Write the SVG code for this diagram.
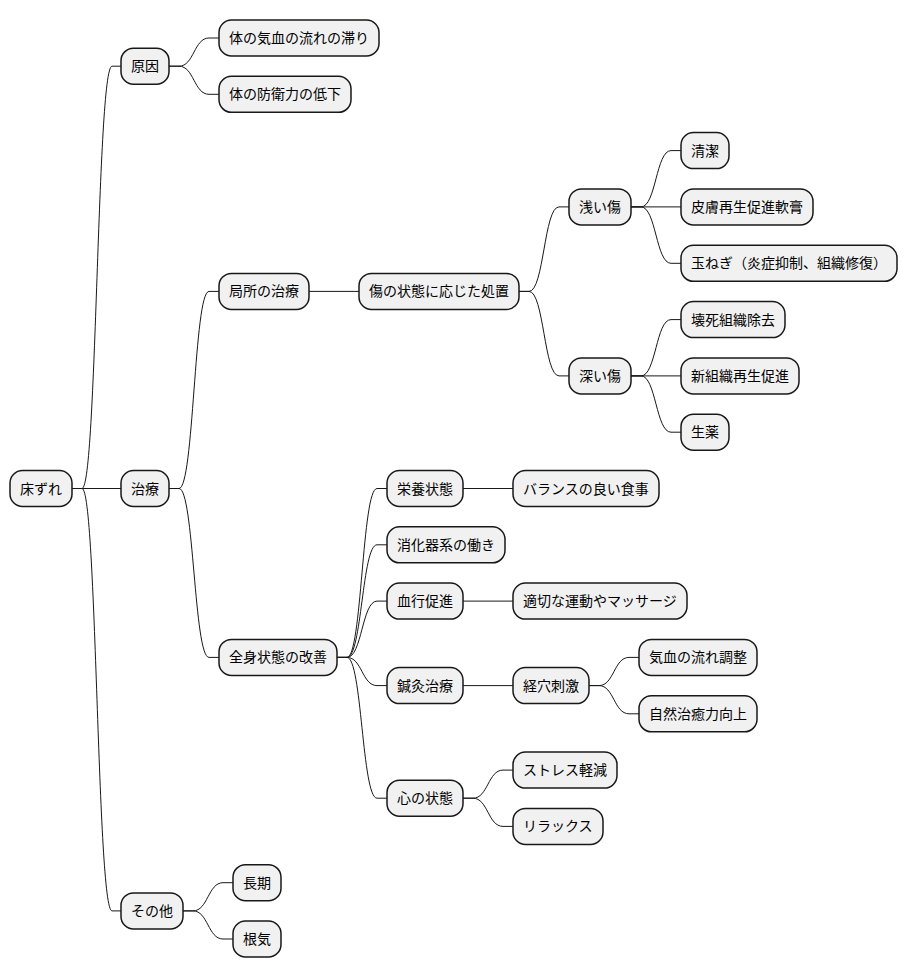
<svg xmlns="http://www.w3.org/2000/svg" width="908" height="978" viewBox="0 0 908 978">
<style>
rect{fill:#F1F1F1;stroke:#181818;stroke-width:1.5}
text{font-family:"Noto Sans CJK JP","Noto Sans",sans-serif;font-size:14px;fill:#000}
#connectors path{fill:none;stroke:#181818;stroke-width:1}
</style>
<rect x="0" y="0" width="908" height="978" style="fill:#fff;stroke:none"/>
<g id="connectors">
<path d="M72 488.5H82C97 488.5 97 66.2 112 66.2H121"/>
<path d="M72 488.5H121"/>
<path d="M72 488.5H82C97 488.5 97 910.9 112 910.9H121"/>
<path d="M169 66.2H179C194 66.2 194 38 209 38H219"/>
<path d="M169 66.2H179C194 66.2 194 94.3 209 94.3H219"/>
<path d="M169 488.5H179C194 488.5 194 291.4 209 291.4H219"/>
<path d="M169 488.5H179C194 488.5 194 657.4 209 657.4H219"/>
<path d="M183 910.9H193C208 910.9 208 882.7 223 882.7H233"/>
<path d="M183 910.9H193C208 910.9 208 939 223 939H233"/>
<path d="M309 291.4H359"/>
<path d="M519 291.4H529C544 291.4 544 206.9 559 206.9H569"/>
<path d="M519 291.4H529C544 291.4 544 375.9 559 375.9H569"/>
<path d="M631 206.9H641C656 206.9 656 150.6 671 150.6H681"/>
<path d="M631 206.9H681"/>
<path d="M631 206.9H641C656 206.9 656 263.3 671 263.3H681"/>
<path d="M631 375.9H641C656 375.9 656 319.6 671 319.6H681"/>
<path d="M631 375.9H681"/>
<path d="M631 375.9H641C656 375.9 656 432.2 671 432.2H681"/>
<path d="M337 657.4H347C362 657.4 362 488.5 377 488.5H387"/>
<path d="M337 657.4H347C362 657.4 362 544.8 377 544.8H387"/>
<path d="M337 657.4H347C362 657.4 362 601.1 377 601.1H387"/>
<path d="M337 657.4H347C362 657.4 362 685.6 377 685.6H387"/>
<path d="M337 657.4H347C362 657.4 362 798.2 377 798.2H387"/>
<path d="M463 488.5H513"/>
<path d="M463 601.1H513"/>
<path d="M463 685.6H513"/>
<path d="M589 685.6H599C614 685.6 614 657.4 629 657.4H639"/>
<path d="M589 685.6H599C614 685.6 614 713.8 629 713.8H639"/>
<path d="M463 798.2H473C488 798.2 488 770.1 503 770.1H513"/>
<path d="M463 798.2H473C488 798.2 488 826.4 503 826.4H513"/>
</g>
<g id="n-root"><rect x="10" y="470.5" width="62" height="36" rx="12.5"/><text x="20" y="493.5">床ずれ</text></g>
<g id="n-cause"><rect x="121" y="48.2" width="48" height="36" rx="12.5"/><text x="131" y="71.2">原因</text></g>
<g id="n-cause1"><rect x="219" y="20" width="160" height="36" rx="12.5"/><text x="229" y="43">体の気血の流れの滞り</text></g>
<g id="n-cause2"><rect x="219" y="76.3" width="132" height="36" rx="12.5"/><text x="229" y="99.3">体の防衛力の低下</text></g>
<g id="n-treat"><rect x="121" y="470.5" width="48" height="36" rx="12.5"/><text x="131" y="493.5">治療</text></g>
<g id="n-local"><rect x="219" y="273.4" width="90" height="36" rx="12.5"/><text x="229" y="296.4">局所の治療</text></g>
<g id="n-wound"><rect x="359" y="273.4" width="160" height="36" rx="12.5"/><text x="369" y="296.4">傷の状態に応じた処置</text></g>
<g id="n-shallow"><rect x="569" y="188.9" width="62" height="36" rx="12.5"/><text x="579" y="211.9">浅い傷</text></g>
<g id="n-clean"><rect x="681" y="132.6" width="48" height="36" rx="12.5"/><text x="691" y="155.6">清潔</text></g>
<g id="n-ointment"><rect x="681" y="188.9" width="132" height="36" rx="12.5"/><text x="691" y="211.9">皮膚再生促進軟膏</text></g>
<g id="n-onion"><rect x="681" y="245.3" width="216" height="36" rx="12.5"/><text x="691" y="268.3">玉ねぎ（炎症抑制、組織修復）</text></g>
<g id="n-deep"><rect x="569" y="357.9" width="62" height="36" rx="12.5"/><text x="579" y="380.9">深い傷</text></g>
<g id="n-necrosis"><rect x="681" y="301.6" width="104" height="36" rx="12.5"/><text x="691" y="324.6">壊死組織除去</text></g>
<g id="n-newtissue"><rect x="681" y="357.9" width="118" height="36" rx="12.5"/><text x="691" y="380.9">新組織再生促進</text></g>
<g id="n-herb"><rect x="681" y="414.2" width="48" height="36" rx="12.5"/><text x="691" y="437.2">生薬</text></g>
<g id="n-whole"><rect x="219" y="639.4" width="118" height="36" rx="12.5"/><text x="229" y="662.4">全身状態の改善</text></g>
<g id="n-nutrition"><rect x="387" y="470.5" width="76" height="36" rx="12.5"/><text x="397" y="493.5">栄養状態</text></g>
<g id="n-meal"><rect x="513" y="470.5" width="146" height="36" rx="12.5"/><text x="523" y="493.5">バランスの良い食事</text></g>
<g id="n-digest"><rect x="387" y="526.8" width="118" height="36" rx="12.5"/><text x="397" y="549.8">消化器系の働き</text></g>
<g id="n-blood"><rect x="387" y="583.1" width="76" height="36" rx="12.5"/><text x="397" y="606.1">血行促進</text></g>
<g id="n-exercise"><rect x="513" y="583.1" width="174" height="36" rx="12.5"/><text x="523" y="606.1">適切な運動やマッサージ</text></g>
<g id="n-acu"><rect x="387" y="667.6" width="76" height="36" rx="12.5"/><text x="397" y="690.6">鍼灸治療</text></g>
<g id="n-points"><rect x="513" y="667.6" width="76" height="36" rx="12.5"/><text x="523" y="690.6">経穴刺激</text></g>
<g id="n-qi"><rect x="639" y="639.4" width="118" height="36" rx="12.5"/><text x="649" y="662.4">気血の流れ調整</text></g>
<g id="n-heal"><rect x="639" y="695.8" width="118" height="36" rx="12.5"/><text x="649" y="718.8">自然治癒力向上</text></g>
<g id="n-mind"><rect x="387" y="780.2" width="76" height="36" rx="12.5"/><text x="397" y="803.2">心の状態</text></g>
<g id="n-stress"><rect x="513" y="752.1" width="104" height="36" rx="12.5"/><text x="523" y="775.1">ストレス軽減</text></g>
<g id="n-relax"><rect x="513" y="808.4" width="90" height="36" rx="12.5"/><text x="523" y="831.4">リラックス</text></g>
<g id="n-other"><rect x="121" y="892.9" width="62" height="36" rx="12.5"/><text x="131" y="915.9">その他</text></g>
<g id="n-long"><rect x="233" y="864.7" width="48" height="36" rx="12.5"/><text x="243" y="887.7">長期</text></g>
<g id="n-patience"><rect x="233" y="921" width="48" height="36" rx="12.5"/><text x="243" y="944">根気</text></g>
</svg>
